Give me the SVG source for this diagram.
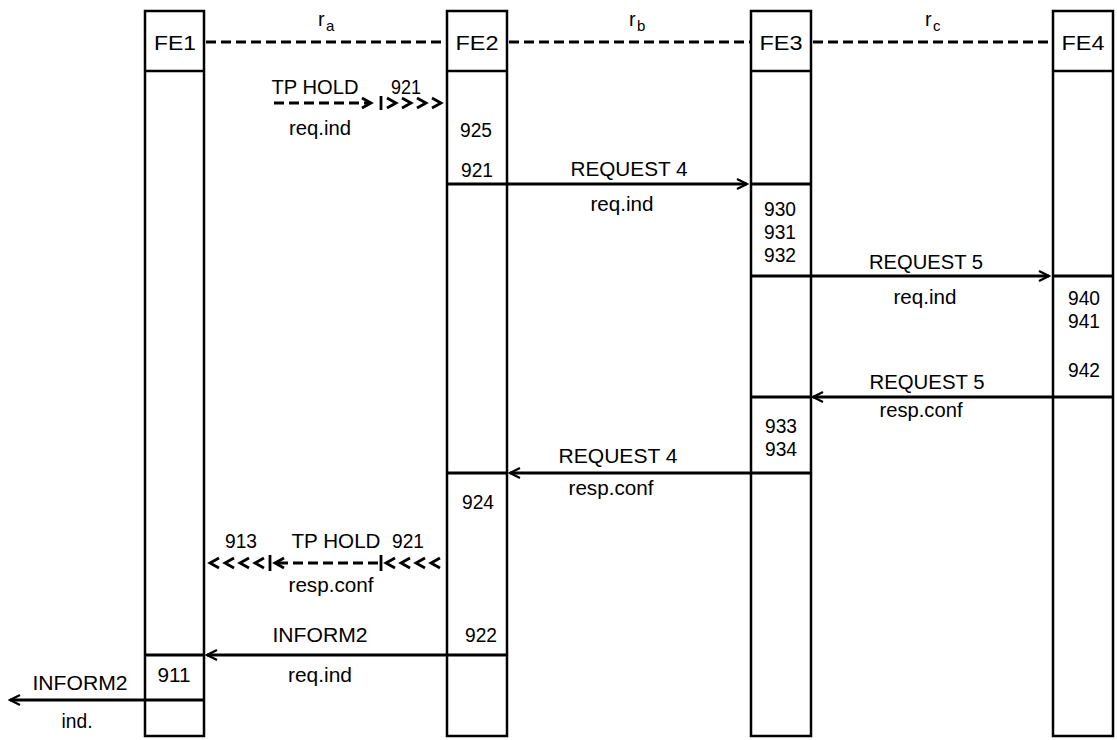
<svg xmlns="http://www.w3.org/2000/svg" width="1117" height="740" viewBox="0 0 1117 740">
<defs>
<style>
.box{fill:#fff;stroke:#000;stroke-width:2.5}
.hd{stroke:#000;stroke-width:2.5}
.div{stroke:#000;stroke-width:3}
.t{font-family:"Liberation Sans",Arial,sans-serif;font-size:20px;fill:#000;text-anchor:middle}
.fe{font-size:21px}
.r{font-family:"Liberation Sans",Arial,sans-serif;font-size:20px;fill:#000}
.sub{font-family:"Liberation Sans",Arial,sans-serif;font-size:15px;fill:#000}
.arr{stroke:#000;stroke-width:3;fill:none;marker-end:url(#ah)}
.ref{stroke:#000;stroke-width:3;stroke-dasharray:10 5;fill:none}
.dash{stroke:#000;stroke-width:3;stroke-dasharray:10 5;fill:none}
.chev{stroke:#000;stroke-width:2.8;fill:none}
</style>
<marker id="ah" markerUnits="userSpaceOnUse" markerWidth="14" markerHeight="14" refX="10" refY="5" orient="auto-start-reverse" viewBox="-2 -2 14 14">
<path d="M0,0 L10,5 L0,10" fill="none" stroke="#000" stroke-width="2.2"/>
</marker>
<marker id="ahs" markerUnits="userSpaceOnUse" markerWidth="14" markerHeight="14" refX="9" refY="5" orient="auto-start-reverse" viewBox="-2 -2 14 14">
<path d="M0,0 L9,5 L0,10" fill="none" stroke="#000" stroke-width="2.8"/>
</marker>
</defs>

<g id="FE1">
<rect class="box" x="145" y="11" width="59" height="725"/>
<line class="hd" x1="145" y1="71" x2="204" y2="71"/>
<text class="t fe" x="175" y="49.5" textLength="42" lengthAdjust="spacingAndGlyphs">FE1</text>
<line class="div" x1="145" y1="655" x2="204" y2="655"/>
<line class="div" x1="145" y1="700" x2="204" y2="700"/>
<text class="t" x="174" y="682" textLength="33" lengthAdjust="spacingAndGlyphs">911</text>
</g>

<g id="FE2">
<rect class="box" x="447" y="11" width="60" height="725"/>
<line class="hd" x1="447" y1="71" x2="507" y2="71"/>
<text class="t fe" x="477" y="49.5" textLength="43" lengthAdjust="spacingAndGlyphs">FE2</text>
<line class="div" x1="447" y1="184" x2="507" y2="184"/>
<line class="div" x1="447" y1="473" x2="507" y2="473"/>
<line class="div" x1="447" y1="655" x2="507" y2="655"/>
<text class="t" x="476" y="137" textLength="32" lengthAdjust="spacingAndGlyphs">925</text>
<text class="t" x="477" y="176.5" textLength="32" lengthAdjust="spacingAndGlyphs">921</text>
<text class="t" x="478" y="508.5" textLength="32" lengthAdjust="spacingAndGlyphs">924</text>
<text class="t" x="481" y="641.5" textLength="32" lengthAdjust="spacingAndGlyphs">922</text>
</g>

<g id="FE3">
<rect class="box" x="751" y="11" width="60" height="725"/>
<line class="hd" x1="751" y1="71" x2="811" y2="71"/>
<text class="t fe" x="781" y="49.5" textLength="43" lengthAdjust="spacingAndGlyphs">FE3</text>
<line class="div" x1="751" y1="184" x2="811" y2="184"/>
<line class="div" x1="751" y1="276" x2="811" y2="276"/>
<line class="div" x1="751" y1="397" x2="811" y2="397"/>
<line class="div" x1="751" y1="473" x2="811" y2="473"/>
<text class="t" x="780" y="215.5" textLength="32" lengthAdjust="spacingAndGlyphs">930</text>
<text class="t" x="780" y="238.5" textLength="32" lengthAdjust="spacingAndGlyphs">931</text>
<text class="t" x="780" y="261.5" textLength="32" lengthAdjust="spacingAndGlyphs">932</text>
<text class="t" x="781" y="432.5" textLength="32" lengthAdjust="spacingAndGlyphs">933</text>
<text class="t" x="781" y="455.5" textLength="32" lengthAdjust="spacingAndGlyphs">934</text>
</g>

<g id="FE4">
<rect class="box" x="1053" y="11" width="60" height="725"/>
<line class="hd" x1="1053" y1="71" x2="1113" y2="71"/>
<text class="t fe" x="1083" y="49.5" textLength="43" lengthAdjust="spacingAndGlyphs">FE4</text>
<line class="div" x1="1053" y1="276" x2="1113" y2="276"/>
<line class="div" x1="1053" y1="397" x2="1113" y2="397"/>
<text class="t" x="1084" y="304.5" textLength="32" lengthAdjust="spacingAndGlyphs">940</text>
<text class="t" x="1084" y="327.5" textLength="32" lengthAdjust="spacingAndGlyphs">941</text>
<text class="t" x="1084" y="376.5" textLength="32" lengthAdjust="spacingAndGlyphs">942</text>
</g>

<g id="connectors">
<line class="ref" x1="206" y1="42" x2="447" y2="42"/>
<line class="ref" x1="509" y1="42" x2="751" y2="42"/>
<line class="ref" x1="813" y1="42" x2="1053" y2="42"/>
<text class="r" x="318" y="26">r</text><text class="sub" x="326" y="31">a</text>
<text class="r" x="629" y="26">r</text><text class="sub" x="637" y="31">b</text>
<text class="r" x="925" y="26">r</text><text class="sub" x="933" y="31">c</text>

<line class="dash" x1="274" y1="103" x2="371" y2="103" marker-end="url(#ahs)"/>
<line class="chev" x1="381" y1="96" x2="381" y2="110"/>
<polyline class="chev" points="387,98 396,103 387,108"/>
<polyline class="chev" points="402,98 411,103 402,108"/>
<polyline class="chev" points="417,98 426,103 417,108"/>
<polyline class="chev" points="432,98 441,103 432,108"/>
<text class="t" x="315" y="94" textLength="87" lengthAdjust="spacingAndGlyphs">TP HOLD</text>
<text class="t" x="406" y="94" textLength="30" lengthAdjust="spacingAndGlyphs">921</text>
<text class="t" x="320" y="134.5" textLength="62" lengthAdjust="spacingAndGlyphs">req.ind</text>

<line class="arr" x1="507" y1="184" x2="747" y2="184"/>
<text class="t" x="629" y="175.5" textLength="117" lengthAdjust="spacingAndGlyphs">REQUEST 4</text>
<text class="t" x="622" y="210.5" textLength="63" lengthAdjust="spacingAndGlyphs">req.ind</text>

<line class="arr" x1="811" y1="276" x2="1049" y2="276"/>
<text class="t" x="926" y="268.5" textLength="114" lengthAdjust="spacingAndGlyphs">REQUEST 5</text>
<text class="t" x="925" y="303.5" textLength="63" lengthAdjust="spacingAndGlyphs">req.ind</text>

<line class="arr" x1="1053" y1="397" x2="813" y2="397"/>
<text class="t" x="927" y="388.5" textLength="115" lengthAdjust="spacingAndGlyphs">REQUEST 5</text>
<text class="t" x="921" y="416.5" textLength="83" lengthAdjust="spacingAndGlyphs">resp.conf</text>

<line class="arr" x1="751" y1="473" x2="510" y2="473"/>
<text class="t" x="618" y="462.5" textLength="119" lengthAdjust="spacingAndGlyphs">REQUEST 4</text>
<text class="t" x="611" y="494.5" textLength="85" lengthAdjust="spacingAndGlyphs">resp.conf</text>

<polyline class="chev" points="219,558 210,563 219,568"/>
<polyline class="chev" points="234,558 225,563 234,568"/>
<polyline class="chev" points="249,558 240,563 249,568"/>
<polyline class="chev" points="264,558 255,563 264,568"/>
<line class="chev" x1="270" y1="555" x2="270" y2="571"/>
<line class="dash" x1="378" y1="563" x2="275" y2="563" marker-end="url(#ahs)"/>
<line class="chev" x1="381" y1="555" x2="381" y2="571"/>
<polyline class="chev" points="395,558 386,563 395,568"/>
<polyline class="chev" points="410,558 401,563 410,568"/>
<polyline class="chev" points="425,558 416,563 425,568"/>
<polyline class="chev" points="440,558 431,563 440,568"/>
<text class="t" x="241" y="547.5" textLength="32" lengthAdjust="spacingAndGlyphs">913</text>
<text class="t" x="336" y="547.5" textLength="89" lengthAdjust="spacingAndGlyphs">TP HOLD</text>
<text class="t" x="408" y="547.5" textLength="32" lengthAdjust="spacingAndGlyphs">921</text>
<text class="t" x="331" y="591.5" textLength="85" lengthAdjust="spacingAndGlyphs">resp.conf</text>

<line class="arr" x1="447" y1="655" x2="207" y2="655"/>
<text class="t" x="320" y="641.5" textLength="95" lengthAdjust="spacingAndGlyphs">INFORM2</text>
<text class="t" x="320" y="681.5" textLength="64" lengthAdjust="spacingAndGlyphs">req.ind</text>

<line class="arr" x1="145" y1="700" x2="10" y2="700"/>
<text class="t" x="80" y="689.5" textLength="95" lengthAdjust="spacingAndGlyphs">INFORM2</text>
<text class="t" x="77" y="727.5" textLength="31" lengthAdjust="spacingAndGlyphs">ind.</text>
</g>
</svg>
